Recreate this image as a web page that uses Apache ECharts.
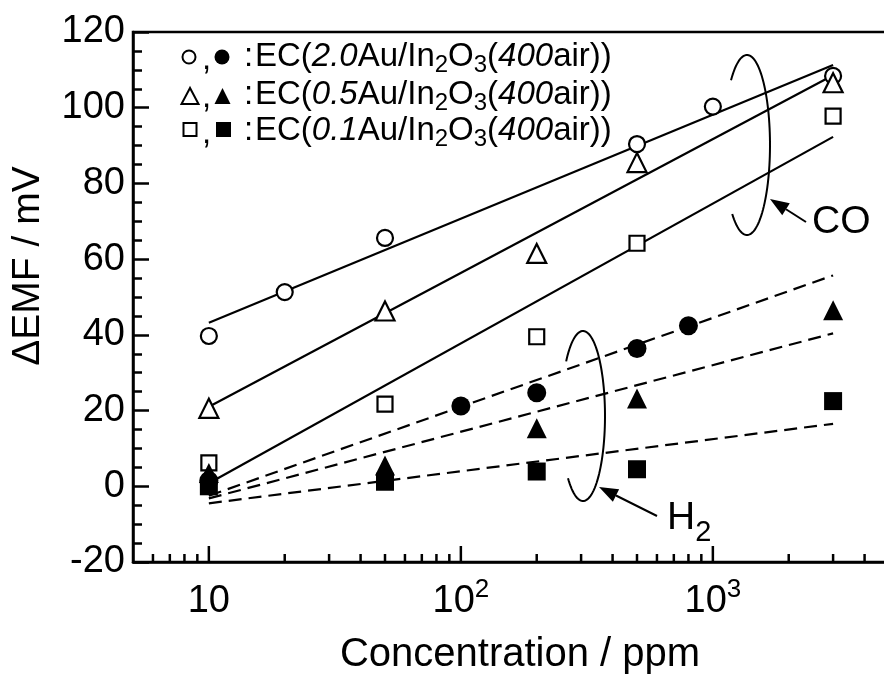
<!DOCTYPE html>
<html>
<head>
<meta charset="utf-8">
<script src="https://cdn.jsdelivr.net/npm/echarts@6/dist/echarts.min.js"></script>
<style>
  html, body { margin: 0; padding: 0; background: #fff; }
  #chart { width: 884px; height: 690px; }
</style>
</head>
<body>
<div id="chart"></div>
<script>
// points (ppm, mV)
const conc2CO = [10, 20, 50, 500, 1000, 3000];
const emf2CO = [39.7, 51.3, 65.6, 90.4, 100.3, 108.4];
const conc05CO = [10, 50, 200, 500, 3000];
const emf05CO = [20.6, 46.3, 61.5, 85.5, 106.6];
const conc01CO = [10, 50, 200, 500, 3000];
const emf01CO = [6.2, 21.7, 39.5, 64.2, 97.8];

const conc2H2 = [10, 100, 200, 500, 800];
const emf2H2 = [1.5, 21.2, 24.7, 36.4, 42.4];
const conc05H2 = [10, 50, 200, 500, 3000];
const emf05H2 = [3.5, 5.5, 15.3, 23.2, 46.5];
const conc01H2 = [10, 50, 200, 500, 3000];
const emf01H2 = [0, 1.2, 3.9, 4.5, 22.5];

// fitted lines, end points at 10 and 3000 ppm
const fitConc = [10, 3000];
const fit2CO = [43.2, 111.3];
const fit05CO = [21.0, 108.6];
const fit01CO = [0.8, 92.3];
const fit2H2 = [-2.5, 55.7];
const fit05H2 = [-3.2, 40.4];
const fit01H2 = [-4.5, 16.5];

// axis ticks
const majorTicksX = [10, 100, 1000];
const minorTicksX = [6, 7, 8, 9, 20, 30, 40, 50, 60, 70, 80, 90,
  200, 300, 400, 500, 600, 700, 800, 900, 2000, 3000, 4000];

const FONT = '"Liberation Sans", Arial, sans-serif';

function zip(xs, ys) {
  return xs.map((x, i) => [x, ys[i]]);
}

function markers(xs, ys, symbol, size, filled) {
  return {
    type: 'scatter',
    data: zip(xs, ys),
    symbol: symbol,
    symbolSize: size,
    z: 5,
    itemStyle: {
      color: filled ? '#000' : '#fff',
      borderColor: '#000',
      borderWidth: filled ? 0 : 2.2,
      opacity: 1
    },
    emphasis: { disabled: true }
  };
}

function fitLine(ys, dashed) {
  return {
    type: 'line',
    data: zip(fitConc, ys),
    symbol: 'none',
    z: 3,
    lineStyle: { color: '#000', width: 2.2, type: dashed ? [13, 7] : 'solid' },
    emphasis: { disabled: true }
  };
}

// x ticks drawn through the log scale (inside, pointing up)
function tickSeries(values, len) {
  return {
    type: 'custom',
    silent: true,
    z: 6,
    data: values.map(v => [v, -20]),
    renderItem: function (params, api) {
      const p = api.coord([api.value(0), api.value(1)]);
      return {
        type: 'line',
        shape: { x1: p[0], y1: p[1], x2: p[0], y2: p[1] - len },
        style: { stroke: '#000', lineWidth: 2.5 }
      };
    }
  };
}

function ellipsePts(cx, cy, rx, ry, a0, a1) {
  const pts = [];
  for (let a = a0; a <= a1 + 0.01; a += 3) {
    const t = a * Math.PI / 180;
    pts.push([cx + rx * Math.cos(t), cy + ry * Math.sin(t)]);
  }
  return pts;
}

function arrow(x0, y0, x1, y1) {
  const ang = Math.atan2(y1 - y0, x1 - x0);
  const L = 19, W = 7;
  const bx = x1 - L * Math.cos(ang), by = y1 - L * Math.sin(ang);
  const px = -Math.sin(ang) * W, py = Math.cos(ang) * W;
  return [
    { type: 'line', shape: { x1: x0, y1: y0, x2: bx, y2: by }, style: { stroke: '#000', lineWidth: 2 } },
    { type: 'polygon', shape: { points: [[x1, y1], [bx + px, by + py], [bx - px, by - py]] }, style: { fill: '#000' } }
  ];
}

const legRich = {
  n: { fontSize: 33, fontFamily: FONT, fill: '#000', lineHeight: 36 },
  i: { fontSize: 33, fontFamily: FONT, fontStyle: 'italic', fill: '#000', lineHeight: 36 },
  s: { fontSize: 24, fontFamily: FONT, fill: '#000', lineHeight: 36, padding: [16, 0, 0, 0] }
};

function legendText(y, amount) {
  return [
    { type: 'text', x: 244, y: y, style: { text: ':', fontSize: 33, fontFamily: FONT, fill: '#000', textVerticalAlign: 'middle' } },
    { type: 'text', x: 255, y: y, style: {
        text: '{n|EC(}{i|' + amount + '}{n|Au/In}{s|2}{n|O}{s|3}{n|(}{i|400}{n|air))}',
        rich: legRich, textVerticalAlign: 'middle', fill: '#000'
      } },
    { type: 'text', x: 202, y: y + 3, style: { text: ',', fontSize: 33, fontFamily: FONT, fill: '#000', textVerticalAlign: 'middle' } }
  ];
}

const lineStroke = { stroke: '#000', lineWidth: 2, fill: null };

const graphics = [].concat(
  // legend symbols
  [
    { type: 'circle', shape: { cx: 189, cy: 57, r: 6.5 }, style: { fill: '#fff', stroke: '#000', lineWidth: 2 } },
    { type: 'circle', shape: { cx: 222, cy: 57, r: 7.5 }, style: { fill: '#000' } },
    { type: 'polygon', shape: { points: [[190, 88], [181.5, 104], [198.5, 104]] }, style: { fill: '#fff', stroke: '#000', lineWidth: 2 } },
    { type: 'polygon', shape: { points: [[222.5, 88], [214.5, 104], [230.5, 104]] }, style: { fill: '#000' } },
    { type: 'rect', shape: { x: 183.5, y: 123, width: 13, height: 13 }, style: { fill: '#fff', stroke: '#000', lineWidth: 2 } },
    { type: 'rect', shape: { x: 216, y: 122, width: 15, height: 15 }, style: { fill: '#000' } }
  ],
  legendText(57, '2.0'),
  legendText(95, '0.5'),
  legendText(131, '0.1'),
  // CO group annotation
  [
    { type: 'polyline', shape: { points: ellipsePts(747, 145, 23, 90, -134, 130) }, style: lineStroke },
    { type: 'text', x: 812, y: 222, style: { text: 'CO', fontSize: 39, fontFamily: FONT, fill: '#000', textVerticalAlign: 'middle' } }
  ],
  arrow(806, 222, 770, 199),
  // H2 group annotation
  [
    { type: 'polyline', shape: { points: ellipsePts(583, 416, 22, 85, -140, 135) }, style: lineStroke },
    { type: 'text', x: 667, y: 518, style: {
        text: '{n|H}{s|2}',
        rich: {
          n: { fontSize: 39, fontFamily: FONT, fill: '#000', lineHeight: 44 },
          s: { fontSize: 29, fontFamily: FONT, fill: '#000', lineHeight: 44, padding: [30, 0, 0, 0] }
        },
        textVerticalAlign: 'middle'
      } }
  ],
  arrow(657, 516, 599, 487),
  // axis titles
  [
    { type: 'text', x: 520, y: 655, style: { text: 'Concentration / ppm', fontSize: 40, fontFamily: FONT, fill: '#000', textAlign: 'center', textVerticalAlign: 'middle' } },
    { type: 'text', x: 28, y: 266, rotation: Math.PI / 2, style: { text: '\u0394EMF / mV', fontSize: 39, fontFamily: FONT, fill: '#000', textAlign: 'center', textVerticalAlign: 'middle' } }
  ]
);

const chart = echarts.init(document.getElementById('chart'));
chart.setOption({
  animation: false,
  backgroundColor: '#fff',
  grid: {
    left: 133, top: 32, right: -5, bottom: 128,
    show: true, borderColor: '#000', borderWidth: 2.5,
    containLabel: false, outerBoundsMode: 'none'
  },
  xAxis: {
    type: 'log',
    logBase: 10,
    min: 5,
    max: 5000,
    axisLine: { onZero: false, lineStyle: { color: '#000', width: 2.5 } },
    axisTick: { show: false },
    splitLine: { show: false },
    axisLabel: {
      showMinLabel: false,
      showMaxLabel: false,
      margin: 20,
      color: '#000',
      fontSize: 38,
      fontFamily: FONT,
      lineHeight: 40,
      formatter: function (v) {
        const e = Math.round(Math.log10(v));
        if (Math.abs(Math.log10(v) - e) > 1e-6) return '';
        if (e === 1) return '10';
        if (e === 2 || e === 3) return '10{sup|' + e + '}';
        return '';
      },
      rich: {
        sup: { fontSize: 26, fontFamily: FONT, color: '#000', lineHeight: 40, padding: [0, 0, 24, 0] }
      }
    }
  },
  yAxis: {
    type: 'value',
    min: -20,
    max: 120,
    interval: 20,
    axisLine: { show: true, lineStyle: { color: '#000', width: 2.5 } },
    axisTick: { show: true, inside: true, length: 16, lineStyle: { color: '#000', width: 2.5 } },
    minorTick: { show: true, splitNumber: 4, length: 9, lineStyle: { color: '#000', width: 2.5 } },
    splitLine: { show: false },
    axisLabel: { margin: 8, color: '#000', fontSize: 38, fontFamily: FONT }
  },
  series: [
    fitLine(fit2CO, false),
    fitLine(fit05CO, false),
    fitLine(fit01CO, false),
    fitLine(fit2H2, true),
    fitLine(fit05H2, true),
    fitLine(fit01H2, true),
    markers(conc2CO, emf2CO, 'circle', 16, false),
    markers(conc05CO, emf05CO, 'triangle', 19, false),
    markers(conc01CO, emf01CO, 'rect', 15, false),
    markers(conc2H2, emf2H2, 'circle', 19, true),
    markers(conc05H2, emf05H2, 'triangle', 20, true),
    markers(conc01H2, emf01H2, 'rect', 18, true),
    tickSeries(majorTicksX, 16),
    tickSeries(minorTicksX, 8)
  ],
  graphic: graphics
});
</script>
</body>
</html>
